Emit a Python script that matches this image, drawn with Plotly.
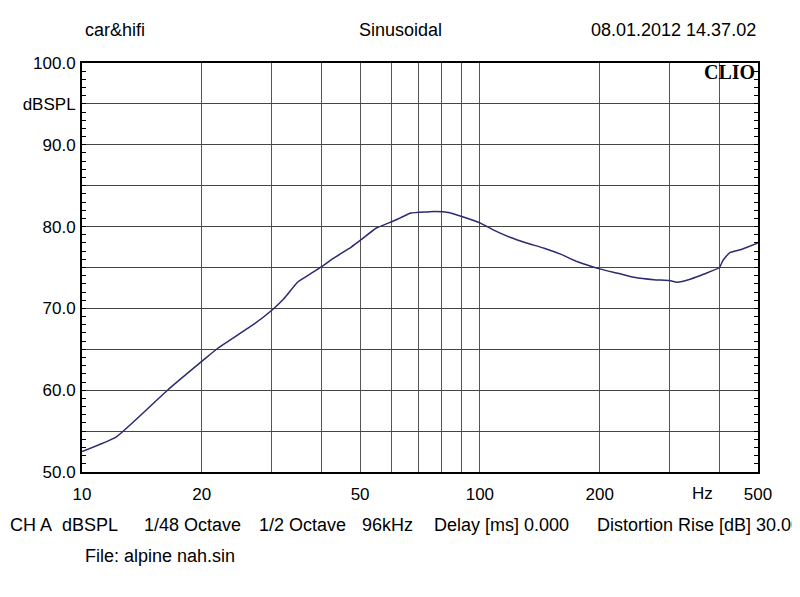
import numpy as np
import plotly.graph_objects as go

# ---- data ----
freq_hz = [10, 12.2, 16.4, 20.2, 21.9, 27.1, 30.2, 32.2, 34.8, 36.9, 40.3, 43.1,
           47.5, 50.3, 54.8, 60.4, 63.3, 67.1, 74, 76.8, 84, 90.5, 100.6, 108,
           119, 131, 145, 160, 176, 201, 222, 244, 274, 300, 313, 339, 366, 400,
           408, 424, 454, 500]
spl_db = [52.5, 54.3, 60.0, 63.7, 65.1, 68.1, 69.9, 71.2, 73.2, 74.0, 75.2, 76.2,
          77.5, 78.4, 79.8, 80.65, 81.1, 81.65, 81.8, 81.85, 81.7, 81.2, 80.4, 79.6,
          78.7, 78.0, 77.35, 76.6, 75.7, 74.8, 74.3, 73.8, 73.5, 73.4, 73.2, 73.6, 74.2, 75.0,
          75.85, 76.8, 77.2, 78.0]

x_grid = [10, 20, 30, 40, 50, 60, 70, 80, 90, 100, 200, 300, 400, 500]
x_labels = ["10", "20", "", "", "50", "", "", "", "", "100", "200", "", "", "500"]
y_grid = [50, 55, 60, 65, 70, 75, 80, 85, 90, 95, 100]
y_labels = ["50.0", "", "60.0", "", "70.0", "", "80.0", "", "90.0", "dBSPL", "100.0"]

header_left = "car&hifi"
header_mid = "Sinusoidal"
header_right = "08.01.2012 14.37.02"
footer_items = ["CH A", "dBSPL", "1/48 Octave", "1/2 Octave", "96kHz",
                "Delay [ms] 0.000", "Distortion Rise [dB] 30.00"]
footer_px = [8, 60, 142, 257, 360, 432, 595]
file_text = "File: alpine nah.sin"

# page is drawn with an 8px body margin
OFF = 8
W, H = 800 - OFF, 597 - OFF
PL, PR, PT, PB = 82, 758, 63, 472          # plot area in page pixels
pw, ph = PR - PL, PB - PT

def px(xp):
    return (xp - PL) / pw

def py(yp):
    return (PB - yp) / ph

FONT = "Liberation Sans, Arial, sans-serif"
fig = go.Figure()
fig.add_trace(go.Scatter(x=freq_hz, y=spl_db, mode="lines",
                         line=dict(color="#2b2a72", width=1.5, shape="spline", smoothing=0.4),
                         hoverinfo="skip", showlegend=False))

fig.update_layout(
    width=W, height=H,
    margin=dict(l=PL - OFF, r=W - (PR - OFF), t=PT - OFF, b=H - (PB - OFF), pad=0),
    paper_bgcolor="white", plot_bgcolor="white",
    font=dict(family=FONT, size=17, color="black"),
    xaxis=dict(type="log", range=[1, np.log10(500)], tickmode="array",
               tickvals=x_grid, ticktext=x_labels, showgrid=True,
               gridcolor="#555555", gridwidth=1, ticks="", showline=True,
               linecolor="black", linewidth=2, mirror=True, zeroline=False,
               ticklabelstandoff=6, tickfont=dict(size=17)),
    yaxis=dict(range=[50, 100], tickmode="array", tickvals=y_grid,
               ticktext=y_labels, showgrid=True, gridcolor="#444444", gridwidth=1,
               ticks="inside", ticklen=4, tickcolor="black", showline=True,
               linecolor="black", linewidth=2, mirror="allticks", zeroline=False,
               minor=dict(dtick=1, ticks="inside", ticklen=4, tickcolor="black",
                          showgrid=False),
               ticklabelstandoff=1, tickfont=dict(size=17)),
)

TXT = dict(family=FONT, size=18, color="black")
ann = []
ann.append(dict(text=header_left, x=px(83), y=py(30), xanchor="left", yanchor="middle"))
ann.append(dict(text=header_mid, x=px(400), y=py(30), xanchor="center", yanchor="middle"))
ann.append(dict(text=header_right, x=px(758), y=py(30), xanchor="right", yanchor="middle"))
for t, xp in zip(footer_items, footer_px):
    ann.append(dict(text=t, x=px(xp), y=py(525), xanchor="left", yanchor="middle"))
ann.append(dict(text=file_text, x=px(83), y=py(556), xanchor="left", yanchor="middle"))
ann.append(dict(text="Hz", x=px(702), y=py(493), xanchor="center", yanchor="middle",
                font=dict(family=FONT, size=17, color="black")))
ann.append(dict(text="<b>CLIO</b>", x=px(757), y=py(72), xanchor="right", yanchor="middle",
                font=dict(family="Liberation Serif, Times New Roman, serif", size=20, color="black")))
for a in ann:
    a.setdefault("xref", "paper")
    a.setdefault("yref", "paper")
    a.setdefault("showarrow", False)
    a.setdefault("font", TXT)
fig.update_layout(annotations=ann)

fig.write_html("out.html")
